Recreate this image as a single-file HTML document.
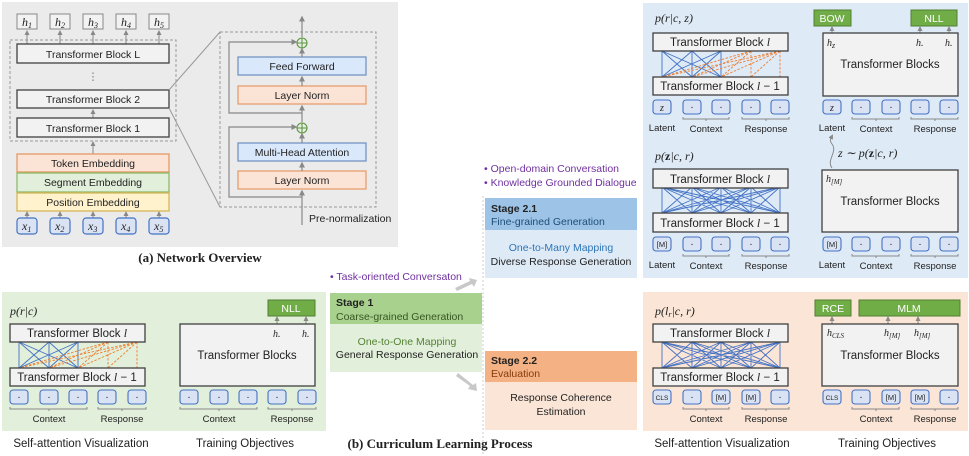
<!DOCTYPE html>
<html><head><meta charset="utf-8"><style>
html,body{margin:0;padding:0;background:#fff}
svg{display:block}
text{font-family:"Liberation Sans",sans-serif;font-size:10.5px;fill:#222}
.m{font-family:"Liberation Serif",serif;font-style:italic;font-size:12px}
.b{font-weight:bold}
.s{font-size:9.5px}
.t{font-size:11.5px}
</style></head><body>
<svg width="969" height="456" viewBox="0 0 969 456" xmlns="http://www.w3.org/2000/svg">
<defs>
<marker id="ar" markerWidth="6" markerHeight="6" refX="3" refY="3" orient="auto"><path d="M0,0.5L5,3L0,5.5z" fill="#888"/></marker>
<g id="full">
<path fill="none" stroke="#4472c4" stroke-width="0.9" d="M0 0L0 26M0 0L30 26M0 0L59 26M0 0L89 26M0 0L118 26M30 0L0 26M30 0L30 26M30 0L59 26M30 0L89 26M30 0L118 26M59 0L0 26M59 0L30 26M59 0L59 26M59 0L89 26M59 0L118 26M89 0L0 26M89 0L30 26M89 0L59 26M89 0L89 26M89 0L118 26M118 0L0 26M118 0L30 26M118 0L59 26M118 0L89 26M118 0L118 26"/>
</g>
<g id="causal">
<path fill="none" stroke="#4472c4" stroke-width="0.9" d="M0 0L0 26M0 0L30 26M0 0L59 26M30 0L0 26M30 0L30 26M30 0L59 26M59 0L0 26M59 0L30 26M59 0L59 26"/>
<path fill="none" stroke="#ed7d31" stroke-width="0.9" stroke-dasharray="2.5,1.5" d="M89 0L0 26M89 0L30 26M89 0L59 26M89 0L89 26M118 0L0 26M118 0L30 26M118 0L59 26M118 0L89 26M118 0L118 26"/>
</g>
<rect id="tok" width="18" height="14" rx="3" fill="#dae3f3" stroke="#4472c4" stroke-width="1.1"/>
</defs>

<!-- Panel (a) -->
<rect x="2" y="2" width="396" height="245" fill="#ebebeb"/>
<g fill="#f2f2f2" stroke="#888" stroke-width="1">
<rect x="17" y="14" width="20" height="15"/><rect x="50" y="14" width="20" height="15"/><rect x="83" y="14" width="20" height="15"/><rect x="116" y="14" width="20" height="15"/><rect x="149" y="14" width="20" height="15"/>
</g>
<text class="m" x="22" y="26">h<tspan font-size="8" dy="2">1</tspan></text>
<text class="m" x="55" y="26">h<tspan font-size="8" dy="2">2</tspan></text>
<text class="m" x="88" y="26">h<tspan font-size="8" dy="2">3</tspan></text>
<text class="m" x="121" y="26">h<tspan font-size="8" dy="2">4</tspan></text>
<text class="m" x="154" y="26">h<tspan font-size="8" dy="2">5</tspan></text>
<g stroke="#888" stroke-width="1" marker-end="url(#ar)">
<line x1="27" y1="44" x2="27" y2="32"/><line x1="60" y1="44" x2="60" y2="32"/><line x1="93" y1="44" x2="93" y2="32"/><line x1="126" y1="44" x2="126" y2="32"/><line x1="159" y1="44" x2="159" y2="32"/>
<line x1="93" y1="118" x2="93" y2="111"/><line x1="93" y1="154" x2="93" y2="143"/>
<line x1="27" y1="218" x2="27" y2="213"/><line x1="60" y1="218" x2="60" y2="213"/><line x1="93" y1="218" x2="93" y2="213"/><line x1="126" y1="218" x2="126" y2="213"/><line x1="159" y1="218" x2="159" y2="213"/>
</g>
<rect x="10" y="40" width="166" height="101" fill="none" stroke="#999" stroke-dasharray="3,2"/>
<g fill="#f2f2f2" stroke="#404040" stroke-width="1.3">
<rect x="17" y="44" width="152" height="19"/><rect x="17" y="90" width="152" height="18"/><rect x="17" y="118" width="152" height="19"/>
</g>
<text x="93" y="58" text-anchor="middle">Transformer Block L</text>
<text x="93" y="80" text-anchor="middle" style="fill:#777">⋮</text>
<text x="93" y="103" text-anchor="middle">Transformer Block 2</text>
<text x="93" y="132" text-anchor="middle">Transformer Block 1</text>
<rect x="17" y="154" width="152" height="18" fill="#fbe3d6" stroke="#e59966" stroke-width="1.3"/>
<rect x="17" y="173" width="152" height="19" fill="#e2efda" stroke="#8dbb6a" stroke-width="1.3"/>
<rect x="17" y="193" width="152" height="18" fill="#fff2cc" stroke="#d6b656" stroke-width="1.3"/>
<text x="93" y="167" text-anchor="middle">Token Embedding</text>
<text x="93" y="186" text-anchor="middle">Segment Embedding</text>
<text x="93" y="206" text-anchor="middle">Position Embedding</text>
<g fill="#dae3f3" stroke="#4472c4" stroke-width="1.2">
<rect x="17" y="218" width="20" height="16" rx="3"/><rect x="50" y="218" width="20" height="16" rx="3"/><rect x="83" y="218" width="20" height="16" rx="3"/><rect x="116" y="218" width="20" height="16" rx="3"/><rect x="149" y="218" width="20" height="16" rx="3"/>
</g>
<text class="m" x="22" y="230">x<tspan font-size="8" dy="2">1</tspan></text>
<text class="m" x="55" y="230">x<tspan font-size="8" dy="2">2</tspan></text>
<text class="m" x="88" y="230">x<tspan font-size="8" dy="2">3</tspan></text>
<text class="m" x="121" y="230">x<tspan font-size="8" dy="2">4</tspan></text>
<text class="m" x="154" y="230">x<tspan font-size="8" dy="2">5</tspan></text>
<line x1="169" y1="90" x2="220" y2="32" stroke="#999"/>
<line x1="169" y1="108" x2="220" y2="207" stroke="#999"/>
<rect x="220" y="32" width="156" height="175" fill="none" stroke="#999" stroke-dasharray="3,2"/>
<rect x="238" y="57" width="128" height="18" fill="#dae8fc" stroke="#6c8ebf" stroke-width="1.2"/>
<rect x="238" y="86" width="128" height="18" fill="#fbe3d6" stroke="#e59966" stroke-width="1.2"/>
<rect x="238" y="143" width="128" height="18" fill="#dae8fc" stroke="#6c8ebf" stroke-width="1.2"/>
<rect x="238" y="171" width="128" height="18" fill="#fbe3d6" stroke="#e59966" stroke-width="1.2"/>
<text x="302" y="70" text-anchor="middle">Feed Forward</text>
<text x="302" y="99" text-anchor="middle">Layer Norm</text>
<text x="302" y="156" text-anchor="middle">Multi-Head Attention</text>
<text x="302" y="184" text-anchor="middle">Layer Norm</text>
<g stroke="#888" stroke-width="1.2" fill="none">
<path d="M302 113L229 113L229 42L295 42" marker-end="url(#ar)"/>
<path d="M302 197L229 197L229 127L295 127" marker-end="url(#ar)"/>
<line x1="302" y1="225" x2="302" y2="192" marker-end="url(#ar)"/>
<line x1="302" y1="171" x2="302" y2="164" marker-end="url(#ar)"/>
<line x1="302" y1="143" x2="302" y2="135" marker-end="url(#ar)"/>
<line x1="302" y1="122" x2="302" y2="107" marker-end="url(#ar)"/>
<line x1="302" y1="86" x2="302" y2="78" marker-end="url(#ar)"/>
<line x1="302" y1="57" x2="302" y2="50" marker-end="url(#ar)"/>
<line x1="302" y1="37" x2="302" y2="18" marker-end="url(#ar)"/>
</g>
<g stroke="#5a9a3a" stroke-width="1.1" fill="none">
<circle cx="302" cy="43" r="5"/><path d="M297 43h10M302 38v10"/>
<circle cx="302" cy="128" r="5"/><path d="M297 128h10M302 123v10"/>
</g>
<text x="309" y="222">Pre-normalization</text>
<text x="200" y="262" text-anchor="middle" class="b" style="font-family:'Liberation Serif',serif;font-size:13px">(a) Network Overview</text>

<!-- Panel green bottom-left -->
<rect x="2" y="292" width="324" height="139" fill="#e2efda"/>
<text class="m" x="10" y="315">p(r|c)</text>
<use href="#causal" x="19" y="342"/>
<rect x="10" y="324" width="135" height="18" fill="#f2f2f2" stroke="#404040" stroke-width="1.3"/>
<rect x="10" y="368" width="135" height="18" fill="#f2f2f2" stroke="#404040" stroke-width="1.3"/>
<text x="77" y="337" text-anchor="middle" class="t">Transformer Block <tspan class="m">l</tspan></text>
<text x="77" y="381" text-anchor="middle" class="t">Transformer Block <tspan class="m">l</tspan> − 1</text>
<use href="#tok" x="10" y="390"/><use href="#tok" x="40" y="390"/><use href="#tok" x="69" y="390"/><use href="#tok" x="98" y="390"/><use href="#tok" x="128" y="390"/>
<g text-anchor="middle"><text x="19" y="400">·</text><text x="49" y="400">·</text><text x="78" y="400">·</text><text x="107" y="400">·</text><text x="137" y="400">·</text></g>
<path d="M10 407v2h77v-2M49 409v2M98 407v2h48v-2M122 409v2" fill="none" stroke="#888"/>
<text class="s" x="49" y="422" text-anchor="middle">Context</text>
<text class="s" x="122" y="422" text-anchor="middle">Response</text>
<rect x="268" y="300" width="47" height="16" fill="#70ad47" stroke="#507e32"/>
<text x="291" y="312" text-anchor="middle" style="fill:#fff">NLL</text>
<g stroke="#888" marker-end="url(#ar)"><line x1="277" y1="324" x2="277" y2="318"/><line x1="306" y1="324" x2="306" y2="318"/></g>
<rect x="180" y="324" width="135" height="62" fill="#f2f2f2" stroke="#404040" stroke-width="1.3"/>
<text class="m" x="273" y="337" style="font-size:10px">h.</text><text class="m" x="302" y="337" style="font-size:10px">h.</text>
<text x="247" y="359" text-anchor="middle" class="t">Transformer Blocks</text>
<use href="#tok" x="180" y="390"/><use href="#tok" x="210" y="390"/><use href="#tok" x="239" y="390"/><use href="#tok" x="268" y="390"/><use href="#tok" x="298" y="390"/>
<g text-anchor="middle"><text x="189" y="400">·</text><text x="219" y="400">·</text><text x="248" y="400">·</text><text x="277" y="400">·</text><text x="307" y="400">·</text></g>
<path d="M180 407v2h77v-2M219 409v2M268 407v2h48v-2M292 409v2" fill="none" stroke="#888"/>
<text class="s" x="219" y="422" text-anchor="middle">Context</text>
<text class="s" x="292" y="422" text-anchor="middle">Response</text>
<text x="81" y="447" text-anchor="middle" class="t">Self-attention Visualization</text>
<text x="245" y="447" text-anchor="middle" class="t">Training Objectives</text>

<!-- Curriculum -->
<line x1="483" y1="196" x2="483" y2="456" stroke="#ccc" stroke-dasharray="2,2"/>
<text x="484" y="172" style="fill:#7030a0">•  Open-domain Conversation</text>
<text x="484" y="186" style="fill:#7030a0">•  Knowledge Grounded Dialogue</text>
<text x="330" y="280" style="fill:#7030a0">•  Task-oriented Conversaton</text>
<rect x="485" y="198" width="152" height="32" fill="#9dc3e6"/>
<rect x="485" y="230" width="152" height="48" fill="#deebf7"/>
<text x="491" y="212" class="b">Stage 2.1</text>
<text x="491" y="225" style="fill:#1f4e79">Fine-grained Generation</text>
<text x="561" y="251" text-anchor="middle" style="fill:#2e75b6">One-to-Many Mapping</text>
<text x="561" y="265" text-anchor="middle">Diverse Response Generation</text>
<rect x="330" y="293" width="152" height="31" fill="#a9d18e"/>
<rect x="330" y="324" width="152" height="48" fill="#e2efda"/>
<text x="336" y="306" class="b">Stage 1</text>
<text x="336" y="320" style="fill:#375623">Coarse-grained Generation</text>
<text x="407" y="345" text-anchor="middle" style="fill:#548235">One-to-One Mapping</text>
<text x="407" y="358" text-anchor="middle">General Response Generation</text>
<rect x="485" y="351" width="152" height="31" fill="#f4b183"/>
<rect x="485" y="382" width="152" height="48" fill="#fbe5d6"/>
<text x="491" y="364" class="b">Stage 2.2</text>
<text x="491" y="377" style="fill:#843c0c">Evaluation</text>
<text x="561" y="401" text-anchor="middle">Response Coherence</text>
<text x="561" y="415" text-anchor="middle">Estimation</text>
<path d="M455 288L470 281L469 278L477 280L474 287L472 284L457 291z" fill="#c8c8c8"/>
<path d="M456 376L470 386L468 389L477 391L476 383L473 385L458 373z" fill="#c8c8c8"/>
<text x="440" y="448" text-anchor="middle" class="b" style="font-family:'Liberation Serif',serif;font-size:13px">(b) Curriculum Learning Process</text>

<!-- Blue panel -->
<rect x="643" y="3" width="325" height="275" fill="#deebf7"/>
<text class="m" x="655" y="22">p(r|c, z)</text>
<use href="#causal" x="662" y="51"/>
<rect x="653" y="33" width="135" height="18" fill="#f2f2f2" stroke="#404040" stroke-width="1.3"/>
<rect x="653" y="77" width="135" height="18" fill="#f2f2f2" stroke="#404040" stroke-width="1.3"/>
<text x="720" y="46" text-anchor="middle" class="t">Transformer Block <tspan class="m">l</tspan></text>
<text x="720" y="90" text-anchor="middle" class="t">Transformer Block <tspan class="m">l</tspan> − 1</text>
<use href="#tok" x="653" y="100"/><use href="#tok" x="683" y="100"/><use href="#tok" x="712" y="100"/><use href="#tok" x="742" y="100"/><use href="#tok" x="771" y="100"/>
<g text-anchor="middle"><text class="m" x="662" y="111" style="font-size:10px">z</text><text x="692" y="110">·</text><text x="721" y="110">·</text><text x="751" y="110">·</text><text x="780" y="110">·</text></g>
<path d="M683 117v2h46v-2M706 119v2M742 117v2h47v-2M766 119v2" fill="none" stroke="#888"/>
<text class="s" x="662" y="131" text-anchor="middle">Latent</text>
<text class="s" x="706" y="132" text-anchor="middle">Context</text>
<text class="s" x="766" y="132" text-anchor="middle">Response</text>

<rect x="814" y="10" width="37" height="16" fill="#70ad47" stroke="#507e32"/>
<text x="832" y="22" text-anchor="middle" style="fill:#fff">BOW</text>
<rect x="911" y="10" width="46" height="16" fill="#70ad47" stroke="#507e32"/>
<text x="934" y="22" text-anchor="middle" style="fill:#fff">NLL</text>
<g stroke="#888" marker-end="url(#ar)"><line x1="832" y1="33" x2="832" y2="28"/><line x1="920" y1="33" x2="920" y2="28"/><line x1="949" y1="33" x2="949" y2="28"/></g>
<rect x="823" y="33" width="135" height="63" fill="#f2f2f2" stroke="#404040" stroke-width="1.3"/>
<text class="m" x="827" y="46" style="font-size:10px">h<tspan font-size="8" dy="2">z</tspan></text>
<text class="m" x="916" y="46" style="font-size:10px">h.</text><text class="m" x="945" y="46" style="font-size:10px">h.</text>
<text x="890" y="68" text-anchor="middle" class="t">Transformer Blocks</text>
<use href="#tok" x="823" y="100"/><use href="#tok" x="852" y="100"/><use href="#tok" x="882" y="100"/><use href="#tok" x="911" y="100"/><use href="#tok" x="940" y="100"/>
<g text-anchor="middle"><text class="m" x="832" y="111" style="font-size:10px">z</text><text x="861" y="110">·</text><text x="891" y="110">·</text><text x="920" y="110">·</text><text x="949" y="110">·</text></g>
<path d="M852 117v2h47v-2M876 119v2M911 117v2h47v-2M935 119v2" fill="none" stroke="#888"/>
<text class="s" x="832" y="131" text-anchor="middle">Latent</text>
<text class="s" x="876" y="132" text-anchor="middle">Context</text>
<text class="s" x="935" y="132" text-anchor="middle">Response</text>
<path d="M832 168C826 160 838 152 832 144C829 140 831 138 832 136" fill="none" stroke="#888" marker-end="url(#ar)"/>
<text class="m" x="838" y="157">z ∼ p(<tspan font-weight="bold" font-style="normal">z</tspan>|c, r)</text>

<text class="m" x="655" y="160">p(<tspan font-weight="bold" font-style="normal">z</tspan>|c, r)</text>
<use href="#full" x="662" y="187"/>
<rect x="653" y="169" width="135" height="19" fill="#f2f2f2" stroke="#404040" stroke-width="1.3"/>
<rect x="653" y="213" width="135" height="19" fill="#f2f2f2" stroke="#404040" stroke-width="1.3"/>
<text x="720" y="183" text-anchor="middle" class="t">Transformer Block <tspan class="m">l</tspan></text>
<text x="720" y="227" text-anchor="middle" class="t">Transformer Block <tspan class="m">l</tspan> − 1</text>
<use href="#tok" x="653" y="237"/><use href="#tok" x="683" y="237"/><use href="#tok" x="712" y="237"/><use href="#tok" x="742" y="237"/><use href="#tok" x="771" y="237"/>
<g text-anchor="middle"><text x="662" y="247" style="font-size:7.5px">[M]</text><text x="692" y="247">·</text><text x="721" y="247">·</text><text x="751" y="247">·</text><text x="780" y="247">·</text></g>
<path d="M683 254v2h46v-2M706 256v2M742 254v2h47v-2M766 256v2" fill="none" stroke="#888"/>
<text class="s" x="662" y="268" text-anchor="middle">Latent</text>
<text class="s" x="706" y="269" text-anchor="middle">Context</text>
<text class="s" x="766" y="269" text-anchor="middle">Response</text>
<rect x="822" y="170" width="136" height="62" fill="#f2f2f2" stroke="#404040" stroke-width="1.3"/>
<text class="m" x="826" y="182" style="font-size:10px">h<tspan font-size="7" dy="2">[M]</tspan></text>
<text x="890" y="205" text-anchor="middle" class="t">Transformer Blocks</text>
<use href="#tok" x="823" y="237"/><use href="#tok" x="852" y="237"/><use href="#tok" x="882" y="237"/><use href="#tok" x="911" y="237"/><use href="#tok" x="940" y="237"/>
<g text-anchor="middle"><text x="832" y="247" style="font-size:7.5px">[M]</text><text x="861" y="247">·</text><text x="891" y="247">·</text><text x="920" y="247">·</text><text x="949" y="247">·</text></g>
<path d="M852 254v2h47v-2M876 256v2M911 254v2h47v-2M935 256v2" fill="none" stroke="#888"/>
<text class="s" x="832" y="268" text-anchor="middle">Latent</text>
<text class="s" x="876" y="269" text-anchor="middle">Context</text>
<text class="s" x="935" y="269" text-anchor="middle">Response</text>

<!-- Orange panel -->
<rect x="643" y="292" width="325" height="139" fill="#fbe5d6"/>
<text class="m" x="655" y="315">p(l<tspan font-size="8" dy="2">r</tspan><tspan dy="-2">|c, r)</tspan></text>
<use href="#full" x="662" y="342"/>
<rect x="653" y="324" width="135" height="18" fill="#f2f2f2" stroke="#404040" stroke-width="1.3"/>
<rect x="653" y="368" width="135" height="18" fill="#f2f2f2" stroke="#404040" stroke-width="1.3"/>
<text x="720" y="337" text-anchor="middle" class="t">Transformer Block <tspan class="m">l</tspan></text>
<text x="720" y="381" text-anchor="middle" class="t">Transformer Block <tspan class="m">l</tspan> − 1</text>
<use href="#tok" x="653" y="390"/><use href="#tok" x="683" y="390"/><use href="#tok" x="712" y="390"/><use href="#tok" x="742" y="390"/><use href="#tok" x="771" y="390"/>
<g text-anchor="middle"><text x="662" y="400" style="font-size:6.5px">CLS</text><text x="692" y="400">·</text><text x="721" y="400" style="font-size:7.5px">[M]</text><text x="751" y="400" style="font-size:7.5px">[M]</text><text x="780" y="400">·</text></g>
<path d="M683 407v2h46v-2M706 409v2M742 407v2h47v-2M766 409v2" fill="none" stroke="#888"/>
<text class="s" x="706" y="422" text-anchor="middle">Context</text>
<text class="s" x="766" y="422" text-anchor="middle">Response</text>
<rect x="815" y="300" width="36" height="16" fill="#70ad47" stroke="#507e32"/>
<text x="833" y="312" text-anchor="middle" style="fill:#fff">RCE</text>
<rect x="859" y="300" width="101" height="16" fill="#70ad47" stroke="#507e32"/>
<text x="909" y="312" text-anchor="middle" style="fill:#fff">MLM</text>
<g stroke="#888" marker-end="url(#ar)"><line x1="832" y1="324" x2="832" y2="318"/><line x1="888" y1="324" x2="888" y2="318"/><line x1="918" y1="324" x2="918" y2="318"/></g>
<rect x="822" y="324" width="136" height="62" fill="#f2f2f2" stroke="#404040" stroke-width="1.3"/>
<text class="m" x="827" y="336" style="font-size:10px">h<tspan font-size="7" dy="2">CLS</tspan></text>
<text class="m" x="884" y="336" style="font-size:10px">h<tspan font-size="7" dy="2">[M]</tspan></text>
<text class="m" x="914" y="336" style="font-size:10px">h<tspan font-size="7" dy="2">[M]</tspan></text>
<text x="890" y="359" text-anchor="middle" class="t">Transformer Blocks</text>
<use href="#tok" x="823" y="390"/><use href="#tok" x="852" y="390"/><use href="#tok" x="882" y="390"/><use href="#tok" x="911" y="390"/><use href="#tok" x="940" y="390"/>
<g text-anchor="middle"><text x="832" y="400" style="font-size:6.5px">CLS</text><text x="861" y="400">·</text><text x="891" y="400" style="font-size:7.5px">[M]</text><text x="920" y="400" style="font-size:7.5px">[M]</text><text x="949" y="400">·</text></g>
<path d="M852 407v2h47v-2M876 409v2M911 407v2h47v-2M935 409v2" fill="none" stroke="#888"/>
<text class="s" x="876" y="422" text-anchor="middle">Context</text>
<text class="s" x="935" y="422" text-anchor="middle">Response</text>
<text x="722" y="447" text-anchor="middle" class="t">Self-attention Visualization</text>
<text x="887" y="447" text-anchor="middle" class="t">Training Objectives</text>
</svg>
</body></html>
